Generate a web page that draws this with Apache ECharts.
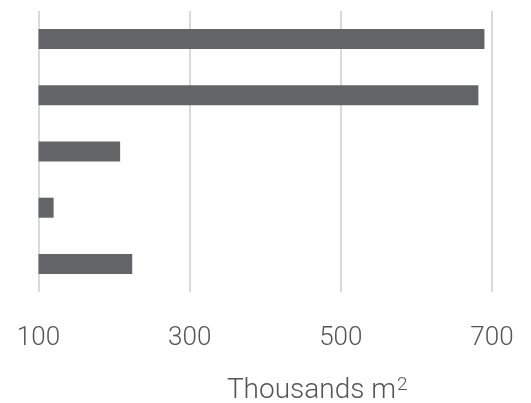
<!DOCTYPE html>
<html>
<head>
<meta charset="utf-8">
<script src="https://cdn.jsdelivr.net/npm/echarts@6/dist/echarts.min.js"></script>
<style>
  html, body { margin: 0; padding: 0; background: #fff; }
  #chart { width: 531px; height: 403px; }
</style>
</head>
<body>
<div id="chart"></div>
<script>
// Floor area by site, thousands of square metres
const categories = ['Site A', 'Site B', 'Site C', 'Site D', 'Site E'];
const values = [690, 682, 208, 120, 224];
const tickMin = 100;
const tickMax = 700;
const tickStep = 200;

const chart = echarts.init(document.getElementById('chart'), null, { renderer: 'canvas' });

chart.setOption({
  animation: false,
  backgroundColor: '#ffffff',
  grid: {
    left: 38.5, right: 39, top: 11, bottom: 111,
    containLabel: false,
    outerBoundsMode: 'none'
  },
  xAxis: {
    type: 'value',
    min: tickMin,
    max: tickMax,
    interval: tickStep,
    axisLine: { show: false },
    axisTick: { show: false },
    splitLine: { show: true, lineStyle: { color: '#dadada', width: 2 } },
    axisLabel: {
      margin: 33,
      fontFamily: 'Roboto',
      fontWeight: 300,
      fontSize: 26,
      color: '#555555'
    },
    name: 'Thousands m{sup|2}',
    nameLocation: 'middle',
    nameGap: 84,
    nameTextStyle: {
      fontFamily: 'Roboto',
      fontWeight: 300,
      fontSize: 28,
      color: '#555555',
      padding: [0, 0, 0, 104],
      rich: {
        sup: {
          fontFamily: 'Roboto',
          fontWeight: 300,
          fontSize: 19,
          color: '#555555',
          verticalAlign: 'top',
          padding: [0, 0, 10, 1]
        }
      }
    }
  },
  yAxis: {
    type: 'category',
    data: categories,
    inverse: true,
    axisLine: { show: false },
    axisTick: { show: false },
    axisLabel: { show: false },
    splitLine: { show: false }
  },
  series: [{
    type: 'bar',
    data: values,
    barWidth: 20,
    itemStyle: { color: '#636468' }
  }]
});
</script>
</body>
</html>
